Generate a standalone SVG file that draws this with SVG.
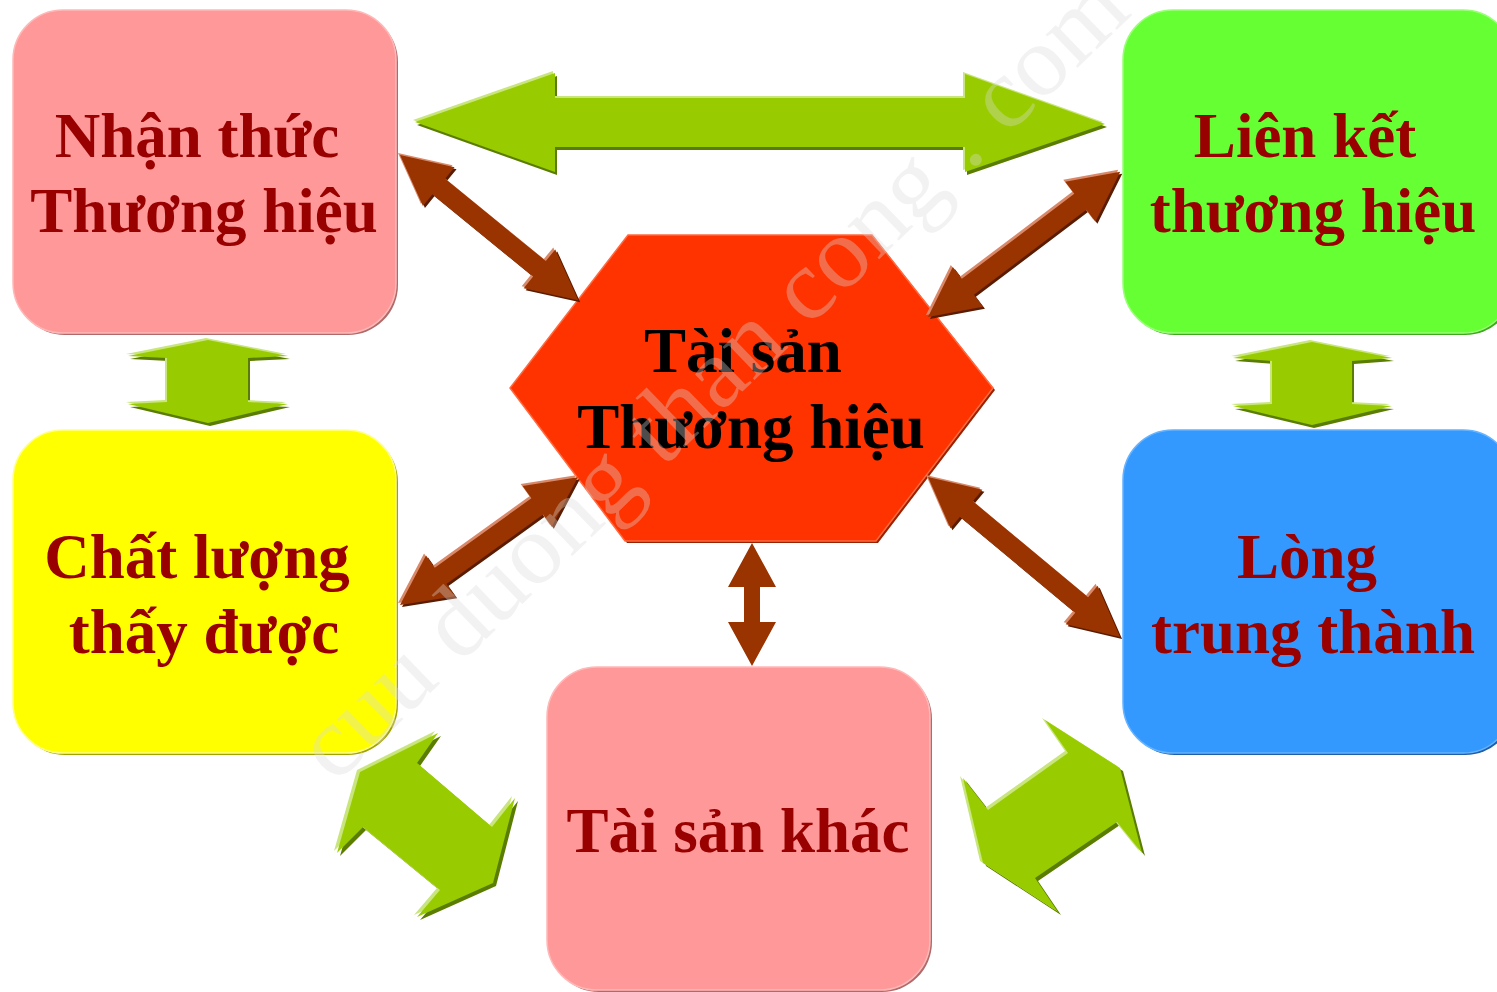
<svg xmlns="http://www.w3.org/2000/svg" xmlns:xlink="http://www.w3.org/1999/xlink" width="1497" height="992" viewBox="0 0 1497 992">
<style>
.lbl{font-family:"Liberation Serif","Times New Roman",serif;font-weight:bold;font-size:63px;text-anchor:middle;fill:#990000}
.ctr{fill:#000000}
.gm{fill:#99CC00}
.gs{fill:#5A7D00}
.gh{fill:#C8E57E}
.bm{fill:#993300}
.bs{fill:#5A1C00}
.bh{fill:#D9896A}
.wm{font-family:"Liberation Serif","Times New Roman",serif;font-size:100px;fill:#DADADA;fill-opacity:0.35}
</style>
<defs>
<path id="a1" d="M0,0 L50,-25 L50,-10 L180,-10 L180,-25 L230,0 L180,25 L180,10 L50,10 L50,25 Z" transform="translate(400,155) rotate(39.2)"/>
<path id="a2" d="M0,0 L50,-25 L50,-10 L191,-10 L191,-25 L241,0 L191,25 L191,10 L50,10 L50,25 Z" transform="translate(928,317) rotate(-37.1)"/>
<path id="a3" d="M0,0 L50,-25 L50,-10 L169,-10 L169,-25 L219,0 L169,25 L169,10 L50,10 L50,25 Z" transform="translate(400,605) rotate(-35.7)"/>
<path id="a4" d="M0,0 L50,-25 L50,-10 L200,-10 L200,-25 L250,0 L200,25 L200,10 L50,10 L50,25 Z" transform="translate(928,477) rotate(39.8)"/>
<path id="a5" d="M0,0 L44,-24 L44,-8 L79,-8 L79,-24 L123,0 L79,24 L79,8 L44,8 L44,24 Z" transform="translate(752,543) rotate(90)"/>
<polygon id="g1" points="415,122 555,73 555,98 965,98 965,74 1105,124 965,172 965,147 555,147 555,172"/>
<polygon id="g2" points="208,340 128,356 167,358 167,402 128,404 208,423 288,404 248,402 248,358 288,356"/>
<polygon id="g3" points="1312,342 1233,358 1272,361 1272,404 1233,406 1312,425 1392,406 1352,404 1352,361 1392,358"/>
<polygon id="g4" points="438,733 417,763 492,827 515,798 493,883 417,917 440,890 363,827 337,853 360,772"/>
<polygon id="g5" points="1045,720 1120,768 1142,853 1117,822 1035,878 1058,912 983,863 963,778 988,810 1068,753"/>
</defs>
<rect width="1497" height="992" fill="#FFFFFF"/>

<g id="node-nhan-thuc">
<rect x="15" y="12" width="383" height="323" rx="50" fill="#B06A6A"/>
<rect x="13" y="10" width="383" height="323" rx="50" fill="#FF9999" stroke="#FFB8B8" stroke-width="1.5"/>
<text class="lbl" x="197" y="157">Nhận thức</text>
<text class="lbl" x="204" y="232">Thương hiệu</text>
</g>

<g id="node-lien-ket">
<rect x="1125" y="12" width="390" height="323" rx="50" fill="#3FA81E"/>
<rect x="1123" y="10" width="390" height="323" rx="50" fill="#66FF33" stroke="#99FF77" stroke-width="1.5"/>
<text class="lbl" x="1305" y="157">Liên kết</text>
<text class="lbl" x="1313" y="232">thương hiệu</text>
</g>

<g id="node-chat-luong">
<rect x="15" y="432" width="383" height="323" rx="50" fill="#A3A300"/>
<rect x="13" y="430" width="383" height="323" rx="50" fill="#FFFF00" stroke="#FFFF88" stroke-width="1.5"/>
<text class="lbl" x="197" y="578">Chất lượng</text>
<text class="lbl" x="204" y="653">thấy được</text>
</g>

<g id="node-long-trung-thanh">
<rect x="1125" y="432" width="390" height="323" rx="50" fill="#1F5FA8"/>
<rect x="1123" y="430" width="390" height="323" rx="50" fill="#3399FF" stroke="#66B3FF" stroke-width="1.5"/>
<text class="lbl" x="1307" y="578">Lòng</text>
<text class="lbl" x="1313" y="653">trung thành</text>
</g>

<g id="node-tai-san-khac">
<rect x="549" y="669" width="383" height="323" rx="50" fill="#B06A6A"/>
<rect x="547" y="667" width="383" height="323" rx="50" fill="#FF9999" stroke="#FFB8B8" stroke-width="1.5"/>
<text class="lbl" x="738" y="852">Tài sản khác</text>
</g>

<g id="node-tai-san-thuong-hieu">
<polygon points="630,237 874,237 995,390 878,543 627,543 512,390" fill="#992200"/>
<polygon points="628,235 872,235 993,388 876,541 625,541 510,388" fill="#FF3300" stroke="#FF6A40" stroke-width="1.5"/>
<text class="lbl ctr" x="743" y="372">Tài sản</text>
<text class="lbl ctr" x="751" y="448">Thương hiệu</text>
</g>

<g id="connectors">
<use xlink:href="#g1" class="gs" transform="translate(2,3)"/>
<use xlink:href="#g1" class="gh" transform="translate(-2,-2)"/>
<use xlink:href="#g1" class="gm"/>
<use xlink:href="#g2" class="gs" transform="translate(2,3)"/>
<use xlink:href="#g2" class="gh" transform="translate(-2,-2)"/>
<use xlink:href="#g2" class="gm"/>
<use xlink:href="#g3" class="gs" transform="translate(2,3)"/>
<use xlink:href="#g3" class="gh" transform="translate(-2,-2)"/>
<use xlink:href="#g3" class="gm"/>
<use xlink:href="#g4" class="gs" transform="translate(3,3)"/>
<use xlink:href="#g4" class="gh" transform="translate(-3,-2)"/>
<use xlink:href="#g4" class="gm"/>
<use xlink:href="#g5" class="gs" transform="translate(3,3)"/>
<use xlink:href="#g5" class="gh" transform="translate(-3,-2)"/>
<use xlink:href="#g5" class="gm"/>

<use xlink:href="#a1" class="bs" transform="translate(2,2)"/>
<use xlink:href="#a1" class="bh" transform="translate(-2,-2)"/>
<use xlink:href="#a1" class="bm"/>
<use xlink:href="#a2" class="bs" transform="translate(2,2)"/>
<use xlink:href="#a2" class="bh" transform="translate(-2,-2)"/>
<use xlink:href="#a2" class="bm"/>
<use xlink:href="#a3" class="bs" transform="translate(2,2)"/>
<use xlink:href="#a3" class="bh" transform="translate(-2,-2)"/>
<use xlink:href="#a3" class="bm"/>
<use xlink:href="#a4" class="bs" transform="translate(2,2)"/>
<use xlink:href="#a4" class="bh" transform="translate(-2,-2)"/>
<use xlink:href="#a4" class="bm"/>
<use xlink:href="#a5" class="bm"/>
</g>

<text class="wm" x="0" y="0" transform="translate(335,785) rotate(-44)" textLength="1110" lengthAdjust="spacingAndGlyphs">cuu duong than cong . com</text>
</svg>
